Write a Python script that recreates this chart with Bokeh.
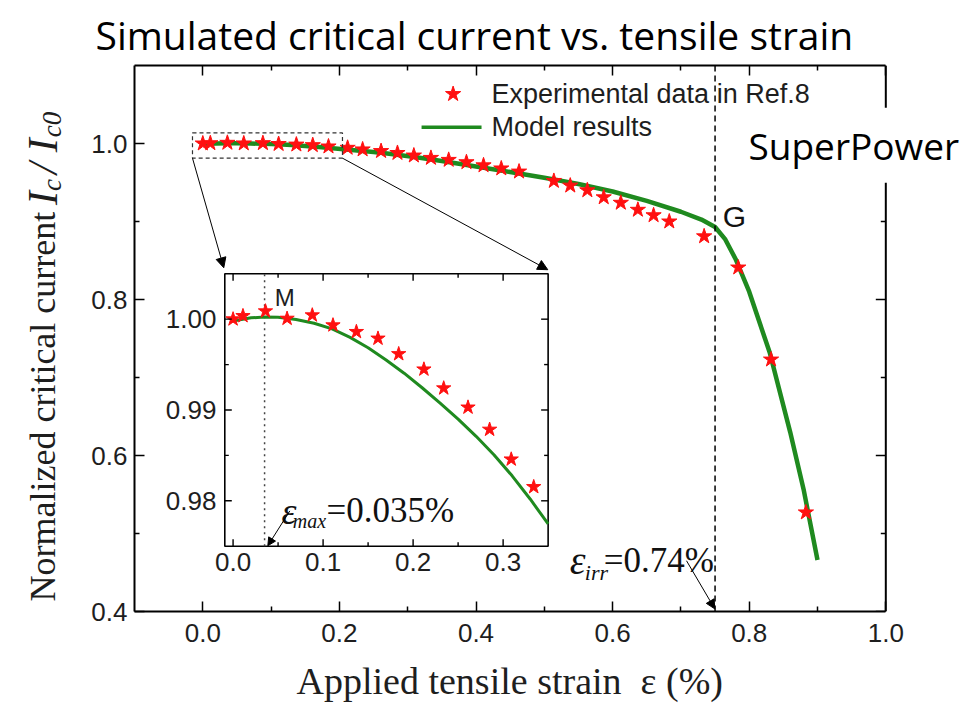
import math
from bokeh.plotting import figure
from bokeh.layouts import row
from bokeh.models import (Range1d, LinearAxis, FixedTicker, Label, Arrow, NormalHead,
                          Span, CustomJSTickFormatter)
from bokeh.core.properties import value
from bokeh.embed import file_html
from bokeh.resources import INLINE

# ---------------- data ----------------
exp_x = [0.000, 0.011, 0.036, 0.060, 0.088, 0.111, 0.137, 0.161, 0.184, 0.212, 0.234,
         0.261, 0.285, 0.309, 0.334, 0.360, 0.386, 0.411, 0.437, 0.463, 0.514, 0.538,
         0.563, 0.587, 0.612, 0.637, 0.660, 0.683, 0.734, 0.784, 0.832, 0.883]
exp_y = [1.0000, 1.00036, 1.00088, 1.00007, 1.00044, 0.99934, 0.99861, 0.99788, 0.99617,
         0.99448, 0.99240, 0.99029, 0.98785, 0.98457, 0.98153, 0.979, 0.976, 0.972, 0.968,
         0.964, 0.952, 0.946, 0.940, 0.931, 0.924, 0.915, 0.908, 0.900, 0.881, 0.841,
         0.723, 0.527]

model_x = [0.0, 0.02, 0.035, 0.05, 0.07, 0.09, 0.11, 0.13, 0.15, 0.17, 0.19, 0.21, 0.23,
           0.25, 0.27, 0.29, 0.31, 0.33, 0.35, 0.40, 0.45, 0.50, 0.55, 0.60, 0.65, 0.70,
           0.73, 0.75, 0.765, 0.78, 0.80, 0.83, 0.86, 0.88, 0.90]
model_y = [0.99980, 1.00015, 1.00024, 1.00020, 0.99996, 0.99955, 0.99893, 0.99800, 0.99685,
           0.99550, 0.99405, 0.99245, 0.99075, 0.98900, 0.98710, 0.98505, 0.98275, 0.98020,
           0.97745, 0.9705, 0.9635, 0.9560, 0.9480, 0.9385, 0.9265, 0.9125, 0.9025, 0.8930,
           0.877, 0.852, 0.810, 0.732, 0.630, 0.555, 0.466]

x_ticks = [0.0, 0.2, 0.4, 0.6, 0.8, 1.0]
x_tick_labels = ["0.0", "0.2", "0.4", "0.6", "0.8", "1.0"]
x_minor = [0.1, 0.3, 0.5, 0.7, 0.9]
y_ticks = [0.4, 0.6, 0.8, 1.0]
y_tick_labels = ["0.4", "0.6", "0.8", "1.0"]
y_minor = [0.5, 0.7, 0.9]

inset_x_ticks = [0.0, 0.1, 0.2, 0.3]
inset_x_tick_labels = ["0.0", "0.1", "0.2", "0.3"]
inset_x_minor = [0.05, 0.15, 0.25]
inset_y_ticks = [0.98, 0.99, 1.00]
inset_y_tick_labels = ["0.98", "0.99", "1.00"]
inset_y_minor = [0.985, 0.995]

eps_max = 0.035
eps_irr_line = 0.75

# ---------------- styles ----------------
GREEN = "#1f8a1f"
RED = "#ff1010"
SANS = "Liberation Sans"
SERIF = "Liberation Serif"
TXT = "#1e1e1e"
H = 710

X0, X1 = -0.1, 1.0      # drawn axis extent
p = figure(width=882, height=H, x_range=Range1d(X0, 1.124), y_range=Range1d(0.4, 1.1),
           output_backend="svg", toolbar_location=None,
           title="Simulated critical current vs. tensile strain",
           min_border_left=46, min_border_right=0, min_border_top=63, min_border_bottom=H - 611)
p.xgrid.visible = False
p.ygrid.visible = False
p.outline_line_color = None
p.title.align = "left"
p.title.offset = -39
p.title.standoff = 10
p.title.text_font = "Open Sans"
p.title.text_font_size = "39px"
p.title.text_font_style = "normal"
p.title.text_color = "black"


def style_axis(ax, ticks, minor, labels=None):
    ax.ticker = FixedTicker(ticks=ticks, minor_ticks=minor)
    ax.axis_line_width = 2
    ax.axis_line_color = "black"
    ax.major_tick_in = 10
    ax.major_tick_out = 0
    ax.minor_tick_in = 5
    ax.minor_tick_out = 0
    ax.major_tick_line_width = 1.5
    ax.minor_tick_line_width = 1.5
    ax.major_tick_line_color = "black"
    ax.minor_tick_line_color = "black"
    ax.major_label_text_font = SANS
    ax.major_label_text_font_size = "26px"
    ax.major_label_text_color = TXT
    ax.major_label_standoff = 7
    if labels is not None:
        ax.major_label_overrides = dict(zip(ticks, labels))
    else:
        ax.formatter = CustomJSTickFormatter(code="return ''")
        ax.major_label_standoff = 0
        ax.major_label_text_font_size = "0px"


style_axis(p.xaxis[0], x_ticks, x_minor, x_tick_labels)
style_axis(p.yaxis[0], y_ticks, y_minor, y_tick_labels)
p.xaxis[0].bounds = (X0, X1)
p.xaxis[0].major_label_standoff = 12
# trailing no-break spaces keep the title centred under the drawn axis (-0.1 .. 1.0)
p.xaxis[0].axis_label = "Applied tensile strain\u00a0\u00a0\u03b5 (%)" + "\u00a0" * 9
p.xaxis[0].axis_label_text_font = SERIF
p.xaxis[0].axis_label_text_font_size = "38px"
p.xaxis[0].axis_label_text_font_style = "normal"
p.xaxis[0].axis_label_text_color = TXT
p.xaxis[0].axis_label_standoff = 15

top_ax = LinearAxis()
style_axis(top_ax, x_ticks, x_minor)
top_ax.bounds = (X0, X1)
p.add_layout(top_ax, "above")

# right frame side (x = 1.0) with inward ticks
p.add_layout(Span(location=X1, dimension="height", line_color="black", line_width=2))
p.ray(x=[X1] * len(y_ticks), y=y_ticks, length=10, angle=math.pi, length_units="screen",
      line_color="black", line_width=1.5)
p.ray(x=[X1] * len(y_minor), y=y_minor, length=5, angle=math.pi, length_units="screen",
      line_color="black", line_width=1.5)

# ---------------- main plot marks ----------------
p.line(model_x, model_y, line_color=GREEN, line_width=4.5)
p.scatter(exp_x, exp_y, marker="star", size=16, fill_color=RED, line_color=RED)

# zoom box around the first points
p.quad(left=[-0.0151], right=[0.2045], bottom=[0.9812], top=[1.0135], fill_color=None,
       line_color="#333333", line_dash="4 3", line_width=1.2)

# irreversible strain line
p.add_layout(Span(location=eps_irr_line, dimension="height", line_color="black",
                  line_dash="6 4", line_width=1.5))

# legend (drawn like the original)
p.scatter([0.3665], [1.0634], marker="star", size=16, fill_color=RED, line_color=RED)
p.line([0.3203, 0.4081], [1.0208, 1.0208], line_color=GREEN, line_width=3.5)
p.text([0.4227, 0.4227], [1.0634, 1.0208], text=["Experimental data in Ref.8", "Model results"],
       text_font=value(SANS), text_font_size="27px", text_baseline="middle",
       text_align="left", text_color=TXT)

p.text([0.7613], [0.9059], text=["G"], text_font=value(SANS), text_font_size="30px",
       text_baseline="middle", text_align="left", text_color="#111111")

# epsilon_irr annotation
p.text([0.5373], [0.4651], text=["\u03b5"], text_font=value(SERIF), text_font_style="italic",
       text_font_size="40px", text_baseline="alphabetic", text_color="#111111")
p.text([0.5593], [0.4498], text=["irr"], text_font=value(SERIF), text_font_style="italic",
       text_font_size="22px", text_baseline="alphabetic", text_color="#111111")
p.text([0.5870], [0.4651], text=["=0.74%"], text_font=value(SERIF),
       text_font_size="35px", text_baseline="alphabetic", text_color="#111111")
p.add_layout(Arrow(x_start=0.7082, y_start=0.4651, x_end=0.7496, y_end=0.4034,
                   line_width=1, line_color="black",
                   end=NormalHead(size=9, fill_color="black", line_color="black")))

# ---------------- inset ----------------
IX0, IX1, IY0, IY1 = 0.0322, 0.5056, 0.4837, 0.8330
ix_src = Range1d(-0.0092, 0.35)
iy_src = Range1d(0.975, 1.005)
p.quad(left=[IX0], right=[IX1], bottom=[IY0], top=[IY1], fill_color="white",
       line_color="black", line_width=1.6)

sub = p.subplot(x_source=ix_src, y_source=iy_src,
                x_target=Range1d(IX0, IX1), y_target=Range1d(IY0, IY1))

in_mx = [x for x in model_x if x <= ix_src.end + 1e-9]
in_my = model_y[:len(in_mx)]
in_ex = [x for x in exp_x if x <= ix_src.end]
in_ey = exp_y[:len(in_ex)]

sub.segment(x0=[eps_max], y0=[iy_src.start], x1=[eps_max], y1=[iy_src.end],
            line_color="#444444", line_dash="2 4", line_width=1.5)
sub.line(in_mx, in_my, line_color=GREEN, line_width=3)
sub.scatter(in_ex, in_ey, marker="star", size=15, fill_color=RED, line_color=RED)


def ticks(xs, ys, angle, length):
    sub.ray(x=xs, y=ys, length=length, angle=angle, length_units="screen",
            line_color="black", line_width=1.4)


ticks(inset_x_ticks, [iy_src.start] * 4, math.pi / 2, 7)
ticks(inset_x_ticks, [iy_src.end] * 4, -math.pi / 2, 7)
ticks(inset_x_minor, [iy_src.start] * 3, math.pi / 2, 4)
ticks(inset_x_minor, [iy_src.end] * 3, -math.pi / 2, 4)
ticks([ix_src.start] * 3, inset_y_ticks, 0, 7)
ticks([ix_src.end] * 3, inset_y_ticks, math.pi, 7)
ticks([ix_src.start] * 2, inset_y_minor, 0, 4)
ticks([ix_src.end] * 2, inset_y_minor, math.pi, 4)

sub.text(x=inset_x_ticks, y=[0.97321] * 4, text=inset_x_tick_labels, text_font=value(SANS),
         text_font_size="26px", text_align="center", text_baseline="middle", text_color=TXT)
sub.text(x=[-0.0185] * 3, y=inset_y_ticks, text=inset_y_tick_labels, text_font=value(SANS),
         text_font_size="26px", text_align="right", text_baseline="middle", text_color=TXT)
sub.text(x=[0.0463], y=[1.00244], text=["M"], text_font=value(SANS), text_font_size="24px",
         text_align="left", text_baseline="middle", text_color=TXT)
sub.text(x=[0.0538], y=[0.9789], text=["\u03b5"], text_font=value(SERIF), text_font_style="italic",
         text_font_size="38px", text_baseline="alphabetic", text_color="#111111")
sub.text(x=[0.0663], y=[0.97782], text=["max"], text_font=value(SERIF), text_font_style="italic",
         text_font_size="20px", text_baseline="alphabetic", text_color="#111111")
sub.text(x=[0.1038], y=[0.9789], text=["=0.035%"], text_font=value(SERIF),
         text_font_size="35px", text_baseline="alphabetic", text_color="#111111")
p.add_layout(Arrow(x_start=0.1274, y_start=0.529, x_end=0.0952, y_end=0.4843,
                   line_width=1, line_color="black",
                   end=NormalHead(size=8, fill_color="black", line_color="black")))

# arrows from the zoom box to the inset
p.add_layout(Arrow(x_start=-0.0151, y_start=0.9812, x_end=0.0307, y_end=0.8407,
                   line_width=1, line_color="black",
                   end=NormalHead(size=10, fill_color="black", line_color="black")))
p.add_layout(Arrow(x_start=0.2045, y_start=0.9812, x_end=0.5051, y_end=0.8382,
                   line_width=1, line_color="black",
                   end=NormalHead(size=10, fill_color="black", line_color="black")))

# SuperPower tag on a white box over the right frame side
p.add_layout(Label(x=0.7814, y=0.9978, text="SuperPower", text_font="Open Sans",
                   text_font_size="37px", text_align="left", text_baseline="middle",
                   text_color="black", background_fill_color="white", padding=12))

# ---------------- y-axis title strip (left), same vertical scale as the plot ----------------
ytl = figure(width=88, height=H, x_range=Range1d(0, 88), y_range=Range1d(0.4, 1.1),
             output_backend="svg", toolbar_location=None, x_axis_location=None,
             y_axis_location=None, min_border=0, outline_line_color=None)
ytl.grid.visible = False

ytl.add_layout(Label(x=42, y=0.4128, text="Normalized critical current", angle=math.pi / 2,
                     text_font=SERIF, text_font_size="36px", text_align="left",
                     text_baseline="alphabetic", text_color=TXT))
for t, bx, yy, sz in [("I", 42, 0.9212, "42px"), ("c", 51, 0.9391, "27px"),
                      ("/", 42, 0.9608, "42px"), ("I", 42, 0.9889, "42px"),
                      ("c0", 51, 1.0080, "27px")]:
    ytl.add_layout(Label(x=bx, y=yy, text=t, angle=math.pi / 2, text_font=SERIF,
                         text_font_style="italic", text_font_size=sz, text_align="left",
                         text_baseline="alphabetic", text_color=TXT))

layout = row(ytl, p, spacing=0)
open("out.html", "w").write(file_html(layout, INLINE))
